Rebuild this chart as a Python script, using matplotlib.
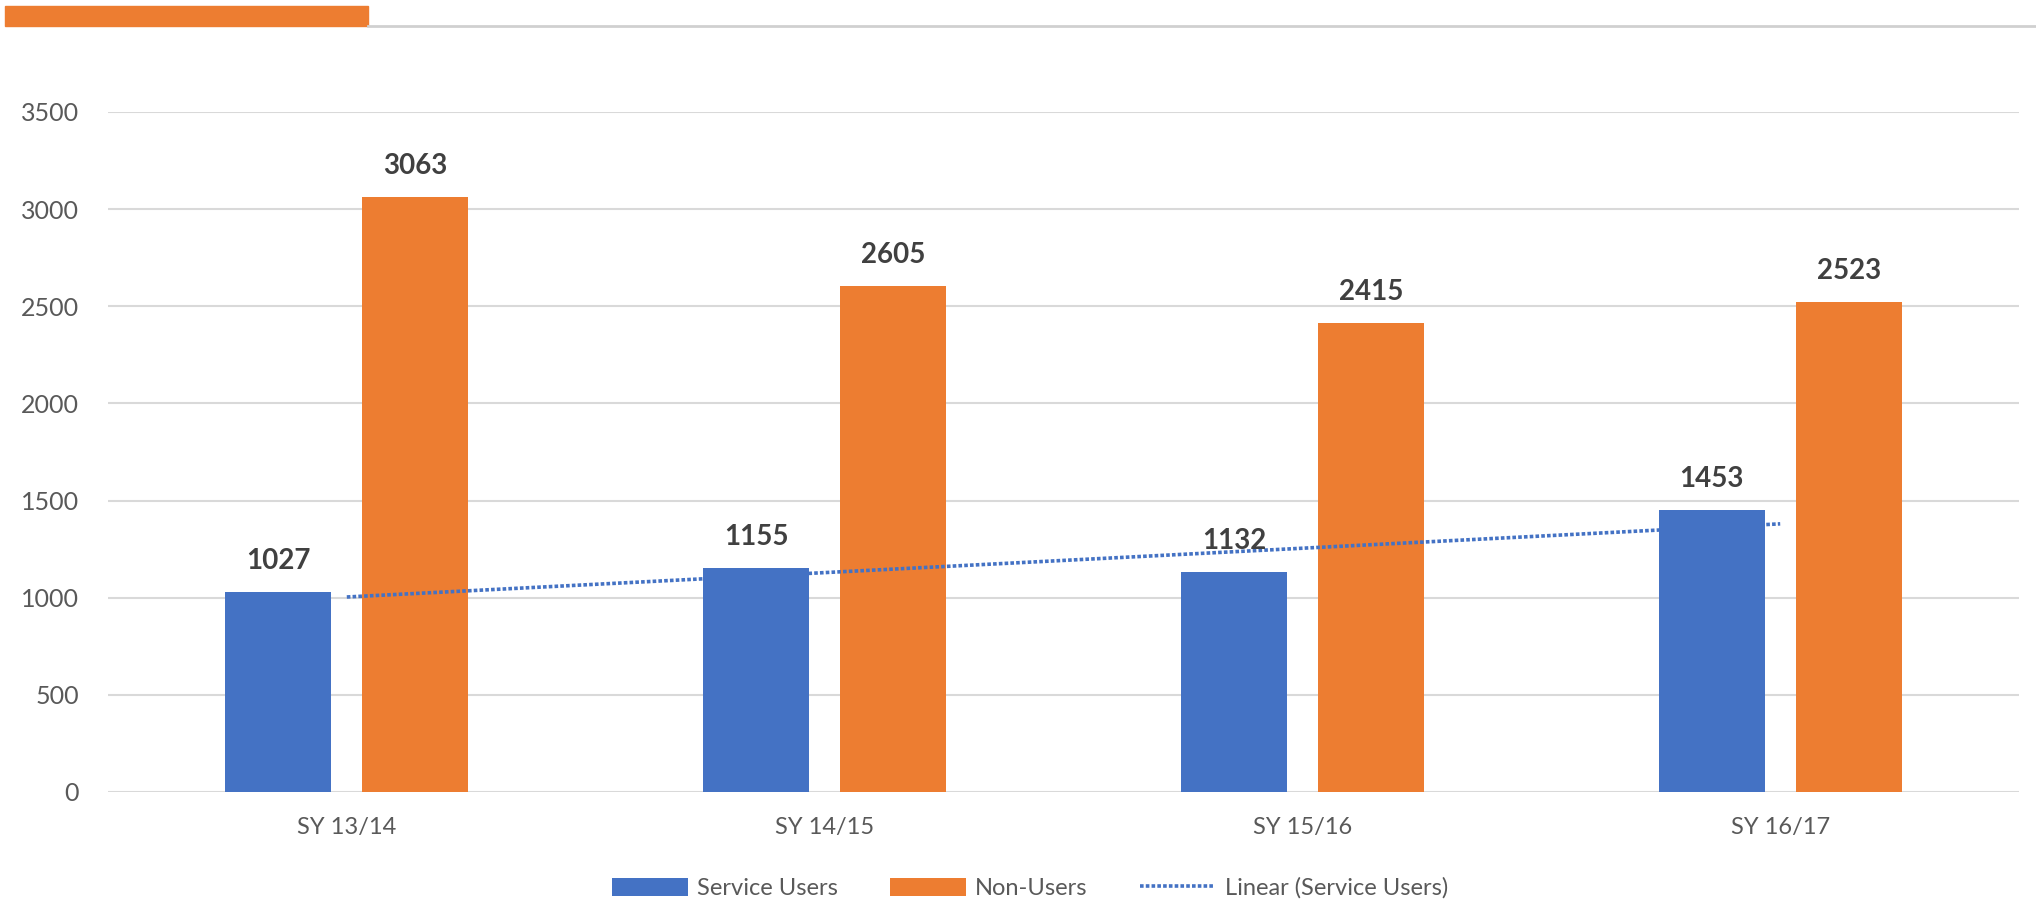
import numpy as np
import matplotlib.pyplot as plt
from matplotlib.patches import Rectangle
from matplotlib.lines import Line2D

plt.rcParams['font.family'] = ['Lato', 'DejaVu Sans']

years = ['SY 13/14', 'SY 14/15', 'SY 15/16', 'SY 16/17']
service_users = [1027, 1155, 1132, 1453]
non_users = [3063, 2605, 2415, 2523]
y_ticks = [0, 500, 1000, 1500, 2000, 2500, 3000, 3500]

blue = '#4472C4'
orange = '#ED7D31'
grey_txt = '#595959'

fig = plt.figure(figsize=(20.36, 9.08), dpi=100)
ax = fig.add_axes([0.053, 0.1278, 0.9387, 0.7489])

x = np.arange(len(years))
w = 0.222
off = 0.1435
b1 = ax.bar(x - off, service_users, w, color=blue, label='Service Users', zorder=3)
b2 = ax.bar(x + off, non_users, w, color=orange, label='Non-Users', zorder=3)

# least squares trend for service users, drawn at category centres
slope, icpt = np.polyfit(x, service_users, 1)
ax.plot(x, slope * x + icpt, color=blue, linestyle=(0, (1, 0.6)), linewidth=2.6,
        label='Linear (Service Users)', zorder=4)

for bars, vals in ((b1, service_users), (b2, non_users)):
    for r, v in zip(bars, vals):
        ax.annotate(str(v), (r.get_x() + r.get_width() / 2, v), xytext=(0, 13),
                    textcoords='offset points', ha='center', va='bottom',
                    fontsize=20, fontweight='bold', color='#404040', zorder=5)

ax.set_xlim(-0.5, 3.5)
ax.set_ylim(0, 3500)
ax.set_yticks(y_ticks)
ax.set_xticks(x)
ax.set_xticklabels(years)
ax.yaxis.grid(True, color='#D9D9D9', linewidth=1.5, zorder=0)
ax.tick_params(axis='y', length=0, pad=21, labelsize=18, labelcolor=grey_txt)
ax.tick_params(axis='x', length=0, pad=18, labelsize=17, labelcolor=grey_txt)
for s in ax.spines.values():
    s.set_visible(False)

# header strip
fig.add_artist(Line2D([368 / 2036, 1.0], [1 - 26 / 908] * 2, color='#D0D0D0', linewidth=2,
                      transform=fig.transFigure))
fig.add_artist(Rectangle((5 / 2036, 1 - 26 / 908), 363 / 2036, 20 / 908, color=orange,
                         transform=fig.transFigure))

fig.legend(handles=[b1, b2, ax.lines[0]], labels=['Service Users', 'Non-Users', 'Linear (Service Users)'],
           loc='center', bbox_to_anchor=(1030 / 2036, 1 - 888 / 908), ncol=3, frameon=False,
           fontsize=17, labelcolor=grey_txt, handlelength=3.2, handleheight=0.8,
           columnspacing=2.2, handletextpad=0.4)

fig.savefig('out.png', dpi=100)
